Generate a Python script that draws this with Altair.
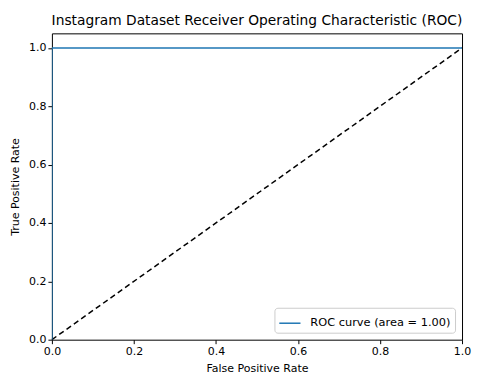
import altair as alt
import pandas as pd

fpr = [0.0, 0.0, 1.0]
tpr = [0.0, 1.0, 1.0]
diag_x = [0.0, 1.0]
diag_y = [0.0, 1.0]
roc_label = "ROC curve (area = 1.00)"
ticks = [0.0, 0.2, 0.4, 0.6, 0.8, 1.0]

roc_df = pd.DataFrame({"fpr": fpr, "tpr": tpr, "order": [0, 1, 2], "series": [roc_label] * 3})
diag_df = pd.DataFrame({"fpr": diag_x, "tpr": diag_y})

FONT = "DejaVu Sans"

xenc = alt.X("fpr:Q", scale=alt.Scale(domain=[0, 1], nice=False),
             axis=alt.Axis(title="False Positive Rate", values=ticks, format=".1f", titlePadding=6))
yenc = alt.Y("tpr:Q", scale=alt.Scale(domain=[0, 1.05], nice=False),
             axis=alt.Axis(title="True Positive Rate", values=ticks, format=".1f", titlePadding=8))

roc = alt.Chart(roc_df).mark_line(strokeWidth=1.5, clip=True).encode(
    x=xenc, y=yenc, order="order:Q",
    color=alt.Color("series:N", scale=alt.Scale(domain=[roc_label], range=["#1f77b4"]),
                    legend=alt.Legend(title=None, orient="bottom-right", symbolType="stroke",
                                      symbolSize=450, symbolStrokeWidth=1.5,
                                      labelFontSize=11.4, labelFont=FONT, labelColor="#000000",
                                      strokeColor="#cccccc", fillColor="white", cornerRadius=3,
                                      padding=4, offset=7, labelLimit=300, labelOffset=9)),
)

diag = alt.Chart(diag_df).mark_line(color="black", strokeDash=[5.5, 3.5], strokeWidth=1.5).encode(
    x="fpr:Q", y="tpr:Q")

chart = alt.layer(diag, roc).properties(
    width=411, height=307,
    background="white",
    title=alt.TitleParams("Instagram Dataset Receiver Operating Characteristic (ROC)",
                          fontSize=13.8, font=FONT, fontWeight="normal", color="#000000", offset=6),
    autosize=alt.AutoSizeParams(type="none"),
    padding={"left": 44, "top": 25, "right": 10, "bottom": 40},
).configure_view(stroke="#000000", strokeWidth=1).configure_axis(
    grid=False, domain=False, tickColor="#000000", tickSize=4, tickWidth=1,
    labelFont=FONT, labelFontSize=11, labelColor="#000000", labelFlush=False,
    titleFont=FONT, titleFontSize=11, titleFontWeight="normal", titleColor="#000000",
    labelPadding=2,
)

chart.save("out.html", embed_options={"renderer": "svg", "actions": False})
